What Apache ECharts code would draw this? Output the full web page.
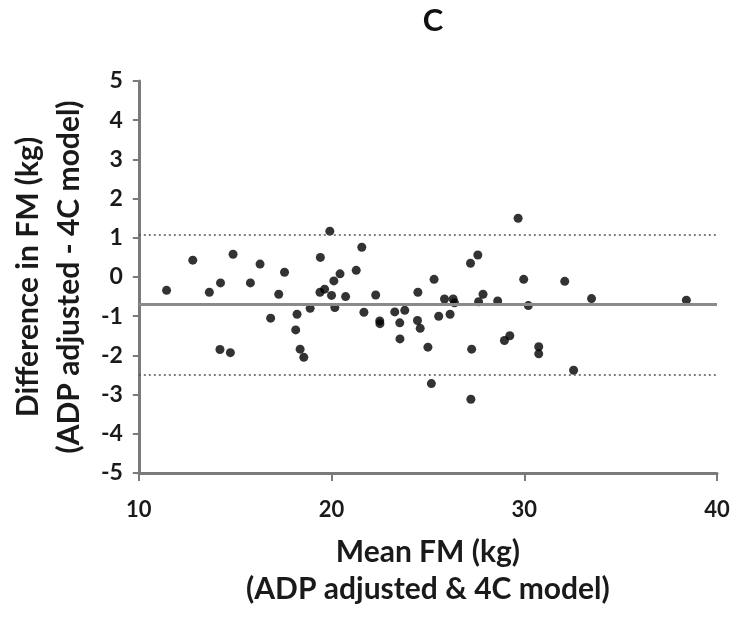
<!DOCTYPE html>
<html>
<head>
<meta charset="utf-8">
<script src="https://cdn.jsdelivr.net/npm/echarts@6/dist/echarts.min.js"></script>
<style>
  html, body { margin: 0; padding: 0; background: #fff; }
  #chart { width: 741px; height: 621px; }
</style>
</head>
<body>
<div id="chart"></div>
<script>
// mean FM (kg) per subject
var meanFM = [
  11.44, 12.80, 13.66, 14.24, 14.21, 14.75, 14.89, 15.79, 16.29, 16.84,
  17.26, 17.56, 18.21, 18.14, 18.37, 18.56, 18.89, 19.40, 19.42, 19.64,
  19.91, 20.00, 20.12, 20.17, 20.44, 20.73, 21.28, 21.57, 21.68, 22.29,
  22.50, 22.51, 23.28, 23.54, 23.55, 23.80, 24.48, 24.46, 24.60, 25.00,
  25.18, 25.32, 25.56, 25.86, 26.15, 26.31, 26.38, 27.21, 27.59, 27.63,
  27.86, 27.27, 27.23, 28.62, 28.97, 29.25, 29.68, 29.97, 30.21, 30.75,
  30.75, 32.10, 32.56, 33.49, 38.41
];
// difference in FM (kg), same order
var diffFM = [
  -0.34, 0.43, -0.39, -0.15, -1.85, -1.93, 0.58, -0.15, 0.33, -1.05,
  -0.44, 0.12, -0.95, -1.35, -1.84, -2.05, -0.80, -0.39, 0.50, -0.31,
  1.17, -0.47, -0.10, -0.78, 0.08, -0.50, 0.17, 0.76, -0.90, -0.46,
  -1.12, -1.19, -0.89, -1.17, -1.58, -0.85, -0.39, -1.11, -1.31, -1.79,
  -2.72, -0.06, -1.00, -0.56, -0.95, -0.56, -0.66, 0.35, 0.56, -0.63,
  -0.44, -1.84, -3.12, -0.61, -1.62, -1.50, 1.50, -0.06, -0.73, -1.78,
  -1.96, -0.11, -2.38, -0.55, -0.59
];
var bias = -0.70;
var limits = [1.08, -2.50];

var points = meanFM.map(function (x, i) { return [x, diffFM[i]]; });

var font = "Lato";
var chart = echarts.init(document.getElementById("chart"));

chart.setOption({
  backgroundColor: "#fff",
  animation: false,
  title: {
    text: "C",
    left: 428,
    top: 0,
    textAlign: "center",
    textStyle: { fontFamily: font, fontWeight: "bold", fontSize: 31, color: "#111" }
  },
  grid: { left: 133, right: 24, top: 81, bottom: 148 },
  xAxis: {
    type: "value",
    min: 10,
    max: 40,
    interval: 10,
    name: "Mean FM (kg)\n(ADP adjusted & 4C model)",
    nameLocation: "middle",
    nameGap: 61,
    nameTextStyle: { fontFamily: font, fontWeight: "bold", fontSize: 30, color: "#1a1a1a", lineHeight: 37 },
    axisLine: { onZero: false, lineStyle: { color: "#7a7a7a", width: 3 } },
    axisTick: { length: 8, lineStyle: { color: "#7a7a7a", width: 2 } },
    axisLabel: { margin: 26, fontFamily: font, fontWeight: "bold", fontSize: 22, color: "#1a1a1a" },
    splitLine: { show: false }
  },
  yAxis: {
    type: "value",
    min: -5,
    max: 5,
    interval: 1,
    name: "Difference in FM (kg)\n(ADP adjusted - 4C model)",
    nameLocation: "middle",
    nameGap: 44,
    nameTextStyle: { fontFamily: font, fontWeight: "bold", fontSize: 30, color: "#1a1a1a", lineHeight: 41 },
    axisLine: { onZero: false, lineStyle: { color: "#7a7a7a", width: 3 } },
    axisTick: { length: 6, lineStyle: { color: "#7a7a7a", width: 2 } },
    axisLabel: { margin: 16, fontFamily: font, fontWeight: "bold", fontSize: 23, color: "#1a1a1a" },
    splitLine: { show: false }
  },
  series: [
    {
      type: "scatter",
      data: points,
      symbolSize: 9,
      itemStyle: { color: "#000" },
      markLine: {
        silent: true,
        symbol: "none",
        label: { show: false },
        data: [
          { yAxis: bias, lineStyle: { type: "solid", color: "#8a8a8a", width: 3 } },
          { yAxis: limits[0], lineStyle: { type: [2, 3], color: "#555", width: 1.5 } },
          { yAxis: limits[1], lineStyle: { type: [2, 3], color: "#555", width: 1.5 } }
        ]
      }
    }
  ]
});
</script>
</body>
</html>
